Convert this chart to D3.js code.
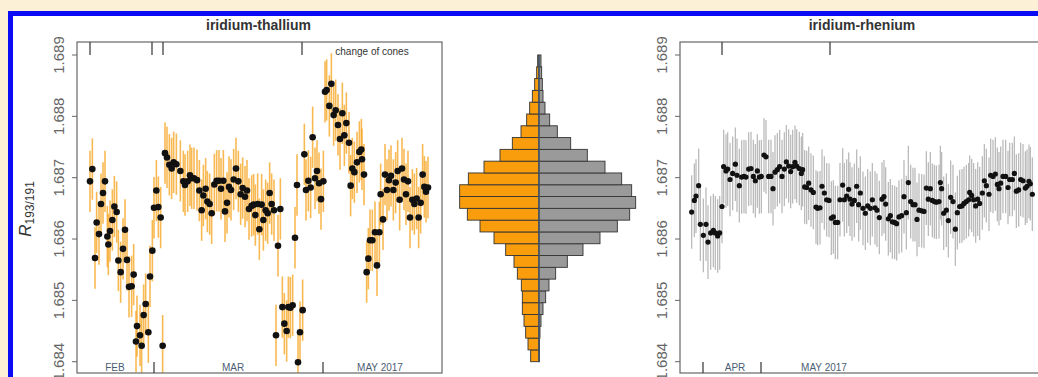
<!DOCTYPE html>
<html>
<head>
<meta charset="utf-8">
<script src="https://cdnjs.cloudflare.com/ajax/libs/d3/7.8.5/d3.min.js"></script>
<style>
  body { margin: 0; background: #fcf1d6; }
  svg { display: block; }
  text { font-family: "Liberation Sans", Arial, sans-serif; }
</style>
</head>
<body>
<svg id="chart" width="1038" height="377"></svg>
<script>
// ---- data ----
// run position along the measurement sequence, and the 193Ir/191Ir ratio
const tlRun = [2.6, 3.07, 3.6, 3.93, 4.4, 4.8, 5.2, 5.6, 6.07, 6.27, 6.6, 7.07, 7.47, 7.93, 8.27, 8.73, 9.2, 9.6, 10.0, 10.4,
  10.93, 11.33, 11.8, 12.0, 12.6, 12.93, 13.33, 13.73, 14.27, 14.6, 15.07, 15.4, 15.87, 16.27, 16.73, 17.13,
  17.6, 18.0, 18.47, 18.93, 19.33, 19.87, 20.67, 21.27, 21.6, 22.13, 22.6, 22.93, 23.4, 24.0, 24.47, 24.93, 25.27,
  25.73, 26.07, 26.53, 26.93, 27.47, 27.93, 28.4, 28.8, 29.27, 29.6, 30.0, 30.4, 30.8, 31.33, 31.8, 32.27, 32.73,
  33.13, 33.6, 34.0, 34.4, 34.93, 35.33, 35.67, 36.13, 36.47, 36.93, 37.27, 37.73, 38.13, 38.53, 38.93, 39.4,
  39.8, 40.2, 40.67, 41.07, 41.47, 41.93, 42.27, 42.67, 43.13, 43.6, 44.0, 44.2, 44.6, 45.13,
  45.47, 45.8, 46.27, 46.73, 47.13, 47.6, 48.0, 48.4, 48.8, 49.27,
  49.6, 49.93, 50.47, 50.87, 51.33, 51.73, 52.2, 52.6, 53.07, 53.47, 53.87, 54.4, 54.73, 55.07, 55.47, 56.0,
  56.47, 56.87, 57.0, 57.4, 57.93, 58.27, 58.6, 59.07, 59.6, 60.0, 60.47, 60.73, 61.2, 61.6, 62.0, 62.4, 62.8,
  63.27, 63.73, 64.13, 64.53, 65.0, 65.4, 65.8, 66.2, 66.6, 67.07, 67.47, 67.93, 68.33, 68.73, 69.13, 69.47, 69.8, 70.2]
const tlRatio = [1.68694, 1.68714, 1.68569, 1.68627, 1.68608, 1.68657, 1.68675, 1.68694, 1.68604, 1.68591, 1.68613,
  1.68631, 1.68653, 1.68644, 1.68565, 1.68546, 1.68584, 1.68615, 1.68566, 1.68522, 1.68523, 1.68542, 1.68433,
  1.68458, 1.68443, 1.68426, 1.68476, 1.68494, 1.68448, 1.68539, 1.68581, 1.68651, 1.68679, 1.68652, 1.68635, 1.68426,
  1.68740, 1.68733, 1.68721, 1.68715, 1.68725, 1.68722, 1.68711, 1.68694, 1.68688, 1.68694, 1.68704, 1.68699,
  1.68699, 1.68696, 1.68679, 1.68647, 1.68671, 1.68682, 1.68661, 1.68657, 1.68642, 1.68689, 1.68695, 1.68695,
  1.68682, 1.68695, 1.68645, 1.68659, 1.68685, 1.68680, 1.68697, 1.68715, 1.68694, 1.68673, 1.68683, 1.68669,
  1.68679, 1.68649, 1.68654, 1.68656, 1.68639, 1.68657, 1.68616, 1.68656, 1.68631, 1.68647, 1.68642, 1.68675,
  1.68657, 1.68647, 1.68443, 1.68589, 1.68649, 1.68489, 1.68462, 1.68450, 1.68489, 1.68488, 1.68492, 1.68602,
  1.68688, 1.68399, 1.68448, 1.68484, 1.68738, 1.68680, 1.68695, 1.68684, 1.68766, 1.68699, 1.68711, 1.68691,
  1.68665, 1.68694, 1.68840, 1.68843, 1.68817, 1.68853, 1.68802, 1.68810, 1.68786, 1.68763, 1.68805, 1.68769,
  1.68789, 1.68757, 1.68687, 1.68715, 1.68709, 1.68725, 1.68742, 1.68746, 1.68730, 1.68705, 1.68546, 1.68568,
  1.68598, 1.68598, 1.68611, 1.68557, 1.68611, 1.68673, 1.68632, 1.68705, 1.68680, 1.68696, 1.68703, 1.68680,
  1.68692, 1.68711, 1.68664, 1.68715, 1.68697, 1.68673, 1.68694, 1.68635, 1.68664, 1.68657, 1.68666, 1.68635,
  1.68659, 1.68705, 1.68685, 1.68677, 1.68684]
const tlErr = 0.0005

const reRun = [2.33, 2.87, 3.2, 3.73, 4.07, 4.67, 5.2, 5.6, 6.13, 6.67, 7.07, 7.53, 7.93, 8.4, 8.73, 9.2, 9.53, 10.0,
  10.53, 11.07, 11.4, 11.87, 12.33, 12.8, 13.2, 13.73, 14.2, 14.67, 15.07, 15.47, 15.87, 16.27, 16.8, 17.2, 17.73,
  18.2, 18.6, 19.0, 19.47, 19.93, 20.4, 20.87, 21.27, 21.73, 22.13, 22.53, 23.0, 23.33, 23.87, 24.27, 24.53, 24.93,
  25.33, 25.73, 26.2, 26.67, 27.2, 27.53, 28.0, 28.4, 28.87, 29.33, 29.8, 30.27, 30.67, 31.07, 31.53, 32.0, 32.53,
  32.87, 33.33, 33.73, 34.0, 34.4, 34.87, 35.33, 35.73, 36.07, 36.6, 37.07, 37.53, 38.07, 38.47, 39.0, 39.4, 39.87,
  40.4, 40.8, 41.13, 41.67, 42.07, 42.47, 42.93, 43.33, 43.8, 44.33, 44.8, 45.27, 45.67, 46.13, 46.6, 47.0, 47.4,
  47.8, 48.33, 48.8, 49.27, 49.67, 50.07, 50.47, 50.87, 51.27, 51.8, 52.07, 52.33, 52.73, 53.27, 53.67, 54.13,
  54.6, 55.07, 55.47, 55.93, 56.4, 56.8, 57.27, 57.73, 57.93, 58.33, 58.73, 59.13, 59.53, 59.93, 60.47, 60.87,
  61.27, 61.8, 62.13, 62.6, 63.07, 63.47, 63.8, 64.13, 64.6, 65.13, 65.6, 65.93, 66.47, 66.87, 67.27, 67.73,
  68.13, 68.6, 69.07, 69.4, 69.8, 70.07, 70.47]
const reRatio = [1.68644, 1.68663, 1.68670, 1.68687, 1.68624, 1.68606, 1.68624, 1.68595, 1.68610, 1.68614, 1.68610,
  1.68605, 1.68610, 1.68653, 1.68718, 1.68711, 1.68714, 1.68697, 1.68707, 1.68722, 1.68704, 1.68687, 1.68701,
  1.68702, 1.68701, 1.68714, 1.68715, 1.68702, 1.68695, 1.68711, 1.68701, 1.68702, 1.68737, 1.68734, 1.68702,
  1.68702, 1.68682, 1.68709, 1.68713, 1.68718, 1.68702, 1.68714, 1.68726, 1.68719, 1.68710, 1.68718, 1.68725,
  1.68719, 1.68715, 1.68707, 1.68713, 1.68685, 1.68684, 1.68691, 1.68680, 1.68676, 1.68652, 1.68650, 1.68651,
  1.68686, 1.68675, 1.68664, 1.68663, 1.68634, 1.68636, 1.68627, 1.68627, 1.68664, 1.68688, 1.68664, 1.68670,
  1.68681, 1.68665, 1.68657, 1.68663, 1.68686, 1.68656, 1.68675, 1.68650, 1.68642, 1.68654, 1.68650, 1.68664,
  1.68651, 1.68647, 1.68635, 1.68665, 1.68669, 1.68657, 1.68633, 1.68638, 1.68628, 1.68627, 1.68625, 1.68636,
  1.68638, 1.68669, 1.68643, 1.68692, 1.68661, 1.68656, 1.68656, 1.68632, 1.68647, 1.68646, 1.68645, 1.68683,
  1.68665, 1.68682, 1.68663, 1.68661, 1.68660, 1.68661, 1.68692, 1.68682, 1.68642, 1.68647, 1.68630, 1.68668,
  1.68661, 1.68616, 1.68643, 1.68653, 1.68654, 1.68658, 1.68661, 1.68664, 1.68676, 1.68671, 1.68664, 1.68654,
  1.68665, 1.68658, 1.68675, 1.68695, 1.68687, 1.68673, 1.68704, 1.68702, 1.68706, 1.68689, 1.68682, 1.68691,
  1.68702, 1.68702, 1.68684, 1.68697, 1.68697, 1.68707, 1.68678, 1.68680, 1.68697, 1.68695, 1.68683, 1.68686,
  1.68694, 1.68690, 1.68673]
const reErr = 0.0006

// histogram: lower bin edges and bar lengths (thallium left, rhenium right)
const binLow = [1.6838, 1.6840, 1.6842, 1.6844, 1.6846, 1.6848, 1.6850, 1.6852, 1.6854, 1.6856, 1.6858, 1.6860, 1.6862,
  1.6864, 1.6866, 1.6868, 1.6870, 1.6872, 1.6874, 1.6876, 1.6878, 1.6880, 1.6882, 1.6884, 1.6886, 1.6888]
const binStep = 0.0002
const tlHist = [2.5, 3.3, 4.0, 4.5, 5.0, 5.0, 5.3, 6.5, 7.5, 10.0, 13.5, 17.7, 21.5, 23.8, 23.8, 21.2, 16.5, 11.7, 8.0,
  5.4, 3.7, 2.8, 2.0, 1.3, 0.7, 0.4]
const reHist = [0.1, 0.15, 0.3, 0.6, 1.2, 2.0, 3.0, 5.0, 8.5, 13.2, 18.3, 23.5, 27.2, 29.0, 27.8, 24.8, 19.8, 14.5, 9.5,
  5.5, 3.2, 1.8, 1.2, 1.0, 0.8, 0.6]

const yTicks = [1.684, 1.685, 1.686, 1.687, 1.688, 1.689]
const tlMonthSep = [15.4, 49.2]
const tlConeTicks = [2.6, 15.0, 17.2, 45.0]
const tlMonths = [['FEB', 7.6], ['MAR', 31.2], ['MAY 2017', 60.6]]
const reMonthSep = [4.6, 16.2]
const reConeTicks = [8.4, 30.0]
const reMonths = [['APR', 11.0], ['MAY 2017', 28.8]]

// ---- drawing ----
const svg = d3.select('#chart')
svg.append('rect').attr('x', 8).attr('y', 11).attr('width', 1100).attr('height', 500).attr('fill', '#0b0bf5')
svg.append('rect').attr('x', 13).attr('y', 16).attr('width', 1100).attr('height', 500).attr('fill', '#fff')

const boxTop = 42, boxBottom = 373
const y = d3.scaleLinear().domain([1.684, 1.689]).range([361.7, 55])

function panel(o) {
  const x = d3.scaleLinear().domain([0, 73]).range([o.left, o.right])
  const g = svg.append('g')
  g.append('clipPath').attr('id', o.id).append('rect')
    .attr('x', o.left).attr('y', boxTop).attr('width', o.right - o.left).attr('height', boxBottom - boxTop)

  const pts = o.run.map((r, i) => ({ r: r, v: o.ratio[i] }))
  g.append('g').attr('clip-path', `url(#${o.id})`).selectAll('line').data(pts).enter().append('line')
    .attr('x1', d => x(d.r)).attr('x2', d => x(d.r))
    .attr('y1', d => y(d.v - o.err)).attr('y2', d => y(d.v + o.err))
    .attr('stroke', o.barColor).attr('stroke-width', o.barWidth).attr('stroke-opacity', o.barOpacity)
  g.append('g').selectAll('circle').data(pts).enter().append('circle')
    .attr('cx', d => x(d.r)).attr('cy', d => y(d.v)).attr('r', o.dot).attr('fill', '#111')

  g.append('rect').attr('x', o.left).attr('y', boxTop).attr('width', o.right - o.left).attr('height', boxBottom - boxTop)
    .attr('fill', 'none').attr('stroke', '#666').attr('stroke-width', 1.2)

  // y axis
  g.selectAll('.yt').data(yTicks).enter().append('line')
    .attr('x1', o.left - 5).attr('x2', o.left).attr('y1', d => y(d)).attr('y2', d => y(d))
    .attr('stroke', '#666')
  g.selectAll('.yl').data(yTicks).enter().append('text')
    .attr('transform', d => `translate(${o.left - 13},${y(d)}) rotate(-90)`)
    .attr('text-anchor', 'middle').attr('font-size', 15).attr('fill', '#666')
    .text(d => d3.format('.3f')(d))

  // month separators and cone changes
  g.selectAll('.ms').data(o.sep).enter().append('line')
    .attr('x1', d => x(d)).attr('x2', d => x(d)).attr('y1', boxBottom).attr('y2', boxBottom - 11)
    .attr('stroke', '#333').attr('stroke-width', 1.2)
  g.selectAll('.ct').data(o.cones).enter().append('line')
    .attr('x1', d => x(d)).attr('x2', d => x(d)).attr('y1', boxTop).attr('y2', boxTop + 13)
    .attr('stroke', '#333').attr('stroke-width', 1.2)
  g.selectAll('.ml').data(o.months).enter().append('text')
    .attr('x', d => x(d[1])).attr('y', 371).attr('text-anchor', 'middle')
    .attr('font-size', 10).attr('fill', '#4b5d73').text(d => d[0])

  g.append('text').attr('x', o.titleX).attr('y', 29.5).attr('text-anchor', 'middle')
    .attr('font-size', 14).attr('font-weight', 'bold').attr('fill', '#333').text(o.title)
  return x
}

panel({ id: 'cl', left: 77, right: 442, run: tlRun, ratio: tlRatio, err: tlErr,
  barColor: '#f6a21a', barWidth: 1.6, barOpacity: 0.75, dot: 3.3,
  sep: tlMonthSep, cones: tlConeTicks, months: tlMonths, title: 'iridium-thallium', titleX: 258.5 })
svg.append('text').attr('x', 372).attr('y', 54.5).attr('text-anchor', 'middle')
  .attr('font-size', 10).attr('fill', '#333').text('change of cones')

panel({ id: 'cr', left: 680, right: 1045, run: reRun, ratio: reRatio, err: reErr,
  barColor: '#b4b4b4', barWidth: 1.3, barOpacity: 0.9, dot: 2.6,
  sep: reMonthSep, cones: reConeTicks, months: reMonths, title: 'iridium-rhenium', titleX: 862 })

// axis title
const yt = svg.append('text').attr('transform', 'translate(31,209) rotate(-90)')
  .attr('text-anchor', 'middle').attr('fill', '#333')
yt.append('tspan').attr('font-style', 'italic').attr('font-size', 17).text('R')
yt.append('tspan').attr('font-size', 12).attr('dy', 3).text('193/191')

// back-to-back histogram
const cx = 539
const hy = d3.scaleLinear().domain([1.6838, 1.6890]).range([361.7, 55])
const hx = d3.scaleLinear().domain([0, 30]).range([0, 100])
const hist = binLow.map((b, i) => ({ b: b, tl: tlHist[i], re: reHist[i] }))
const hg = svg.append('g')
hg.selectAll('.ho').data(hist).enter().append('rect')
  .attr('x', d => cx - hx(d.tl)).attr('width', d => hx(d.tl))
  .attr('y', d => hy(d.b + binStep)).attr('height', d => hy(d.b) - hy(d.b + binStep))
  .attr('fill', '#f99d0c').attr('stroke', '#333').attr('stroke-width', 0.9)
hg.selectAll('.hr').data(hist).enter().append('rect')
  .attr('x', cx).attr('width', d => hx(d.re))
  .attr('y', d => hy(d.b + binStep)).attr('height', d => hy(d.b) - hy(d.b + binStep))
  .attr('fill', '#9a9a9a').attr('stroke', '#333').attr('stroke-width', 0.9)
hg.append('line').attr('x1', cx).attr('x2', cx).attr('y1', hy(1.6890)).attr('y2', hy(1.6838))
  .attr('stroke', '#3f5a78').attr('stroke-width', 1.3)
</script>
</body>
</html>
